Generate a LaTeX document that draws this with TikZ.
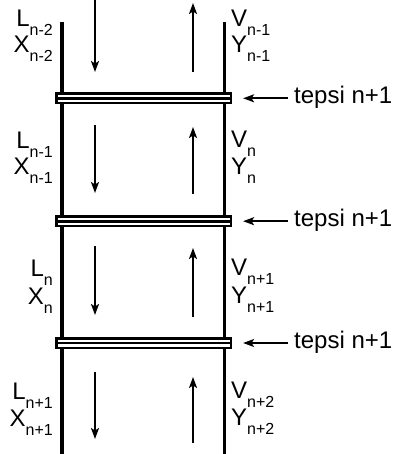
\documentclass[tikz,border=0pt]{standalone}
\usepackage{fontspec}
\setmainfont{Liberation Sans}
\usetikzlibrary{arrows.meta}
\newcommand{\lsub}[1]{\raisebox{-9pt}{\fontsize{16}{16}\selectfont #1}}
\begin{document}
\begin{tikzpicture}[x=1pt,y=-1pt,
  wall/.style={line width=3.6pt},
  flow/.style={line width=1.6pt,-{Stealth[length=11pt,width=8pt,inset=2.5pt]}},
  tray/.style={draw,line width=2.6pt,fill=white,minimum width=174.6pt,minimum height=9.6pt,inner sep=0pt,
     path picture={\draw[line width=2.6pt] (path picture bounding box.west) -- (path picture bounding box.east);}},
  lab/.style={inner sep=0pt,font=\fontsize{24}{24}\selectfont},
  llab/.style={lab,anchor=base east},
  rlab/.style={lab,anchor=base west},
  tlab/.style={lab,anchor=base west},
]
\useasboundingbox (0,0) rectangle (396,454);
% walls
\coordinate (lwt) at (62,22);
\coordinate (lwb) at (62,456);
\coordinate (rwt) at (224.5,22);
\coordinate (rwb) at (224.5,456);
\draw[wall] (lwt) -- (lwb);
\draw[wall] (rwt) -- (rwb);
% trays
\node[tray] (t1) at (143.5,98.3) {};
\node[tray] (t2) at (143.5,221.2) {};
\node[tray] (t3) at (143.5,343) {};
% tray labels and arrows
\foreach \t/\y in {t1/104,t2/226.9,t3/348.7}{
  \node[tlab] (\t lab) at (294,\y) {tepsi n+1};
  \draw[flow] ([xshift=-6pt]\t lab.west |- \t.east) -- ([xshift=11pt]\t.east);
}
% flow arrows
\coordinate (d0s) at (95,-2);   \coordinate (d0e) at (95,72);
\coordinate (u0s) at (193,72);  \coordinate (u0e) at (193,3);
\coordinate (d1s) at (95,125);  \coordinate (d1e) at (95,193);
\coordinate (u1s) at (193,194); \coordinate (u1e) at (193,127);
\coordinate (d2s) at (95,246);  \coordinate (d2e) at (95,315);
\coordinate (u2s) at (193,317); \coordinate (u2e) at (193,248);
\coordinate (d3s) at (95,372);  \coordinate (d3e) at (95,439);
\coordinate (u3s) at (193,443); \coordinate (u3e) at (193,377);
\foreach \i in {0,1,2,3}{
  \draw[flow] (d\i s) -- (d\i e);
  \draw[flow] (u\i s) -- (u\i e);
}
% left labels
\node[llab] (L0) at (53,27)  {L\lsub{n-2}};
\node[llab] (X0) at (53,53)  {X\lsub{n-2}};
\node[llab] (L1) at (53,149) {L\lsub{n-1}};
\node[llab] (X1) at (53,175) {X\lsub{n-1}};
\node[llab] (L2) at (53,276) {L\lsub{n}};
\node[llab] (X2) at (53,304) {X\lsub{n}};
\node[llab] (L3) at (53,399) {L\lsub{n+1}};
\node[llab] (X3) at (53,426) {X\lsub{n+1}};
% right labels
\node[rlab] (V0) at (231,27)  {V\lsub{n-1}};
\node[rlab] (Y0) at (231,53)  {Y\lsub{n-1}};
\node[rlab] (V1) at (231,148) {V\lsub{n}};
\node[rlab] (Y1) at (231,175) {Y\lsub{n}};
\node[rlab] (V2) at (231,275) {V\lsub{n+1}};
\node[rlab] (Y2) at (231,303) {Y\lsub{n+1}};
\node[rlab] (V3) at (231,398) {V\lsub{n+2}};
\node[rlab] (Y3) at (231,425) {Y\lsub{n+2}};
\end{tikzpicture}
\end{document}
